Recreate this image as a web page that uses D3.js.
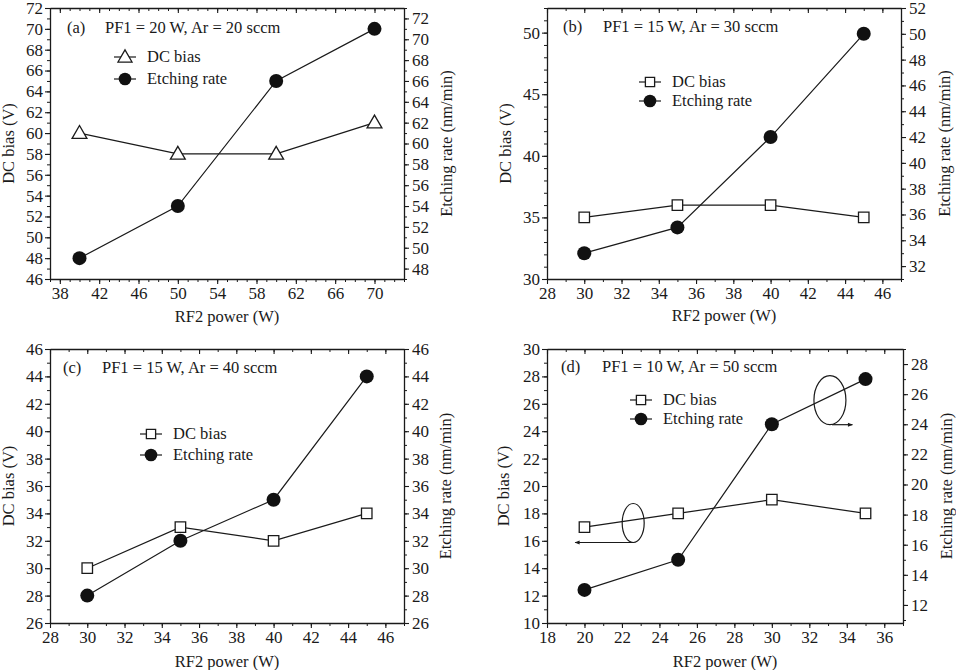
<!DOCTYPE html>
<html>
<head>
<meta charset="utf-8">
<script src="https://cdn.jsdelivr.net/npm/d3@7"></script>
<style>
  html, body { margin: 0; padding: 0; background: #fff; }
  svg { display: block; }
  svg text { font-family: "Liberation Serif", "Times New Roman", serif !important; fill: #1a1a1a; }
</style>
</head>
<body>
<svg id="chart" width="956" height="670"></svg>
<script>
// ---------------- DATA ----------------
const panelLabels = ["(a)", "(b)", "(c)", "(d)"];
const conditions = ["PF1 = 20 W, Ar = 20 sccm", "PF1 = 15 W, Ar = 30 sccm",
                    "PF1 = 15 W, Ar = 40 sccm", "PF1 = 10 W, Ar = 50 sccm"];
const seriesNames = ["DC bias", "Etching rate"];
const xTitle = "RF2 power (W)";
const yLeftTitle = "DC bias (V)";
const yRightTitle = "Etching rate (nm/min)";

const rf2A = [40, 50, 60, 70];
const dcBiasA = [60, 58, 58, 61];
const etchA = [49, 54, 66, 71];

const rf2B = [30, 35, 40, 45];
const dcBiasB = [35, 36, 36, 35];
const etchB = [33, 35, 42, 50];

const rf2C = [30, 35, 40, 45];
const dcBiasC = [30, 33, 32, 34];
const etchC = [28, 32, 35, 44];

const rf2D = [20, 25, 30, 35];
const dcBiasD = [17, 18, 19, 18];
const etchD = [13, 15, 24, 27];

const xTicksA = [38, 42, 46, 50, 54, 58, 62, 66, 70];
const yLTicksA = [46, 48, 50, 52, 54, 56, 58, 60, 62, 64, 66, 68, 70, 72];
const yRTicksA = [48, 50, 52, 54, 56, 58, 60, 62, 64, 66, 68, 70, 72];

const xTicksB = [28, 30, 32, 34, 36, 38, 40, 42, 44, 46];
const yLTicksB = [30, 35, 40, 45, 50];
const yRTicksB = [32, 34, 36, 38, 40, 42, 44, 46, 48, 50, 52];

const xTicksC = [28, 30, 32, 34, 36, 38, 40, 42, 44, 46];
const yLTicksC = [26, 28, 30, 32, 34, 36, 38, 40, 42, 44, 46];
const yRTicksC = [26, 28, 30, 32, 34, 36, 38, 40, 42, 44, 46];

const xTicksD = [18, 20, 22, 24, 26, 28, 30, 32, 34, 36];
const yLTicksD = [10, 12, 14, 16, 18, 20, 22, 24, 26, 28, 30];
const yRTicksD = [12, 14, 16, 18, 20, 22, 24, 26, 28];

// annotation (panel d): ellipse centres in data units, arrow end in data units
const ellipseLeftD = {x: 22.6, y: 17.3, xEnd: 19.5};   // left axis (DC bias)
const ellipseRightD = {x: 33.1, y: 25.6, xEnd: 34.3};  // right axis (Etching rate)

// ---------------- LAYOUT ----------------
const panels = [
  {box: {l: 50, r: 404, t: 8, b: 279}, xDom: [37, 73], yLDom: [46, 72], yRDom: [47, 73],
   x: rf2A, dc: dcBiasA, er: etchA, xt: xTicksA, ylt: yLTicksA, yrt: yRTicksA, sym: "tri",
   labelX: 17, labelY: 25, condX: 55, legX: 75, legY: 49, legGap: 22,
   xTitleY: 322, yLTitleX: 8, yRTitleX: 446},
  {box: {l: 547, r: 901, t: 8, b: 279}, xDom: [28, 47], yLDom: [30, 52], yRDom: [31, 52],
   x: rf2B, dc: dcBiasB, er: etchB, xt: xTicksB, ylt: yLTicksB, yrt: yRTicksB, sym: "sq",
   labelX: 16, labelY: 24, condX: 56, legX: 103, legY: 74, legGap: 19,
   xTitleY: 321, yLTitleX: 505, yRTitleX: 944},
  {box: {l: 50, r: 404, t: 349, b: 623}, xDom: [28, 47], yLDom: [26, 46], yRDom: [26, 46],
   x: rf2C, dc: dcBiasC, er: etchC, xt: xTicksC, ylt: yLTicksC, yrt: yRTicksC, sym: "sq",
   labelX: 13, labelY: 24, condX: 52, legX: 101, legY: 85, legGap: 21,
   xTitleY: 667, yLTitleX: 8, yRTitleX: 445},
  {box: {l: 547, r: 903, t: 349, b: 623}, xDom: [18, 37], yLDom: [10, 30], yRDom: [10.8, 29],
   x: rf2D, dc: dcBiasD, er: etchD, xt: xTicksD, ylt: yLTicksD, yrt: yRTicksD, sym: "sq",
   labelX: 14, labelY: 23, condX: 55, legX: 94, legY: 51, legGap: 19,
   xTitleY: 667, yLTitleX: 503, yRTitleX: 946, annot: true}
];

const FS = 16.5;
const TFS = 17;
const INK = "#1a1a1a";
const svg = d3.select("#chart");

const defs = svg.append("defs");
defs.append("marker").attr("id", "arrow").attr("viewBox", "0 0 10 10")
  .attr("refX", 9).attr("refY", 5).attr("markerWidth", 7).attr("markerHeight", 5)
  .attr("markerUnits", "userSpaceOnUse").attr("orient", "auto")
  .append("path").attr("d", "M0,1 L10,5 L0,9 Z").attr("fill", INK);

function symbolPath(kind, size) {
  if (kind === "tri") return d3.symbol().type(d3.symbolTriangle).size(size)();
  return d3.symbol().type(d3.symbolSquare).size(size)();
}

function minorRange(dom) {
  return d3.range(Math.ceil(dom[0]), Math.floor(dom[1]) + 1);
}

panels.forEach((p, i) => {
  const B = p.box;
  const g = svg.append("g");
  const x = d3.scaleLinear().domain(p.xDom).range([B.l, B.r]);
  const yL = d3.scaleLinear().domain(p.yLDom).range([B.b, B.t]);
  const yR = d3.scaleLinear().domain(p.yRDom).range([B.b, B.t]);

  const styleAxis = (sel) => {
    sel.attr("font-family", null).attr("font-size", null);
    sel.select(".domain").attr("stroke", INK).attr("stroke-width", 1.3);
    sel.selectAll(".tick line").attr("stroke", INK).attr("stroke-width", 1.1);
    sel.selectAll(".tick text").style("font-size", TFS + "px").attr("fill", INK);
  };

  // minor ticks first
  const mx = minorRange(p.xDom), myL = minorRange(p.yLDom), myR = minorRange(p.yRDom);
  const clean = s => { s.select(".domain").remove(); s.selectAll("line").attr("stroke", INK); };
  g.append("g").attr("transform", `translate(0,${B.b})`)
    .call(d3.axisBottom(x).tickValues(mx).tickSize(3).tickFormat("")).call(clean);
  g.append("g").attr("transform", `translate(0,${B.t})`)
    .call(d3.axisBottom(x).tickValues(mx).tickSize(3).tickFormat("")).call(clean);
  g.append("g").attr("transform", `translate(${B.l},0)`)
    .call(d3.axisLeft(yL).tickValues(myL).tickSize(3).tickFormat("")).call(clean);
  g.append("g").attr("transform", `translate(${B.r},0)`)
    .call(d3.axisRight(yR).tickValues(myR).tickSize(3).tickFormat("")).call(clean);

  // major axes
  g.append("g").attr("transform", `translate(0,${B.b})`)
    .call(d3.axisBottom(x).tickValues(p.xt).tickSize(5).tickSizeOuter(0).tickPadding(3).tickFormat(d3.format("d")))
    .call(styleAxis);
  g.append("g").attr("transform", `translate(0,${B.t})`)
    .call(d3.axisBottom(x).tickValues(p.xt).tickSize(5).tickSizeOuter(0).tickFormat(""))
    .call(styleAxis);
  g.append("g").attr("transform", `translate(${B.l},0)`)
    .call(d3.axisLeft(yL).tickValues(p.ylt).tickSize(5).tickSizeOuter(0).tickPadding(2).tickFormat(d3.format("d")))
    .call(styleAxis);
  g.append("g").attr("transform", `translate(${B.r},0)`)
    .call(d3.axisRight(yR).tickValues(p.yrt).tickSize(5).tickSizeOuter(0).tickPadding(3).tickFormat(d3.format("d")))
    .call(styleAxis);

  // axis titles
  g.append("text").attr("x", (B.l + B.r) / 2).attr("y", p.xTitleY)
    .attr("text-anchor", "middle").style("font-size", FS + "px").text(xTitle);
  g.append("text").attr("transform", `translate(${p.yLTitleX},${(B.t + B.b) / 2}) rotate(-90)`)
    .attr("text-anchor", "middle").attr("dy", "0.35em").style("font-size", FS + "px").text(yLeftTitle);
  g.append("text").attr("transform", `translate(${p.yRTitleX},${(B.t + B.b) / 2}) rotate(-90)`)
    .attr("text-anchor", "middle").attr("dy", "0.35em").style("font-size", FS + "px").text(yRightTitle);

  // panel label and condition
  g.append("text").attr("x", B.l + p.labelX).attr("y", B.t + p.labelY)
    .style("font-size", FS + "px").text(panelLabels[i]);
  g.append("text").attr("x", B.l + p.condX).attr("y", B.t + p.labelY)
    .style("font-size", FS + "px").text(conditions[i]);

  // lines
  const dcPts = p.x.map((v, k) => [x(v), yL(p.dc[k])]);
  const erPts = p.x.map((v, k) => [x(v), yR(p.er[k])]);
  g.append("path").attr("d", d3.line()(dcPts)).attr("fill", "none").attr("stroke", INK).attr("stroke-width", 1.2);
  g.append("path").attr("d", d3.line()(erPts)).attr("fill", "none").attr("stroke", INK).attr("stroke-width", 1.2);

  const symSize = p.sym === "tri" ? 95 : 110;
  g.selectAll(null).data(dcPts).enter().append("path")
    .attr("d", symbolPath(p.sym, symSize))
    .attr("transform", d => `translate(${d[0]},${d[1] + (p.sym === "tri" ? 1 : 0)})`)
    .attr("fill", "#fff").attr("stroke", INK).attr("stroke-width", 1.3);
  g.selectAll(null).data(erPts).enter().append("circle")
    .attr("cx", d => d[0]).attr("cy", d => d[1]).attr("r", 7).attr("fill", "#111");

  // legend
  const lx = B.l + p.legX, ly = B.t + p.legY;
  [0, 1].forEach(k => {
    const yy = ly + k * p.legGap;
    g.append("line").attr("x1", lx - 11).attr("x2", lx + 11).attr("y1", yy).attr("y2", yy)
      .attr("stroke", INK).attr("stroke-width", 1.2);
    if (k === 0) {
      g.append("path").attr("d", symbolPath(p.sym, 85))
        .attr("transform", `translate(${lx},${yy + (p.sym === "tri" ? 1 : 0)})`)
        .attr("fill", "#fff").attr("stroke", INK).attr("stroke-width", 1.3);
    } else {
      g.append("circle").attr("cx", lx).attr("cy", yy).attr("r", 6.3).attr("fill", "#111");
    }
    g.append("text").attr("x", lx + 22).attr("y", yy).attr("dy", "0.33em")
      .style("font-size", FS + "px").text(seriesNames[k]);
  });

  // annotation ellipses with arrows
  if (p.annot) {
    const e1 = ellipseLeftD, e2 = ellipseRightD;
    const c1 = [x(e1.x), yL(e1.y)], c2 = [x(e2.x), yR(e2.y)];
    g.append("ellipse").attr("cx", c1[0]).attr("cy", c1[1]).attr("rx", 11).attr("ry", 19.5)
      .attr("fill", "none").attr("stroke", INK).attr("stroke-width", 1.2);
    g.append("line").attr("x1", c1[0] + 1).attr("y1", c1[1] + 19.5).attr("x2", x(e1.xEnd)).attr("y2", c1[1] + 19.5)
      .attr("stroke", INK).attr("stroke-width", 1.2).attr("marker-end", "url(#arrow)");
    g.append("ellipse").attr("cx", c2[0]).attr("cy", c2[1]).attr("rx", 16).attr("ry", 24.5)
      .attr("fill", "none").attr("stroke", INK).attr("stroke-width", 1.2);
    g.append("line").attr("x1", c2[0] + 2).attr("y1", c2[1] + 24.5).attr("x2", x(e2.xEnd)).attr("y2", c2[1] + 24.5)
      .attr("stroke", INK).attr("stroke-width", 1.2).attr("marker-end", "url(#arrow)");
  }
});
</script>
</body>
</html>
